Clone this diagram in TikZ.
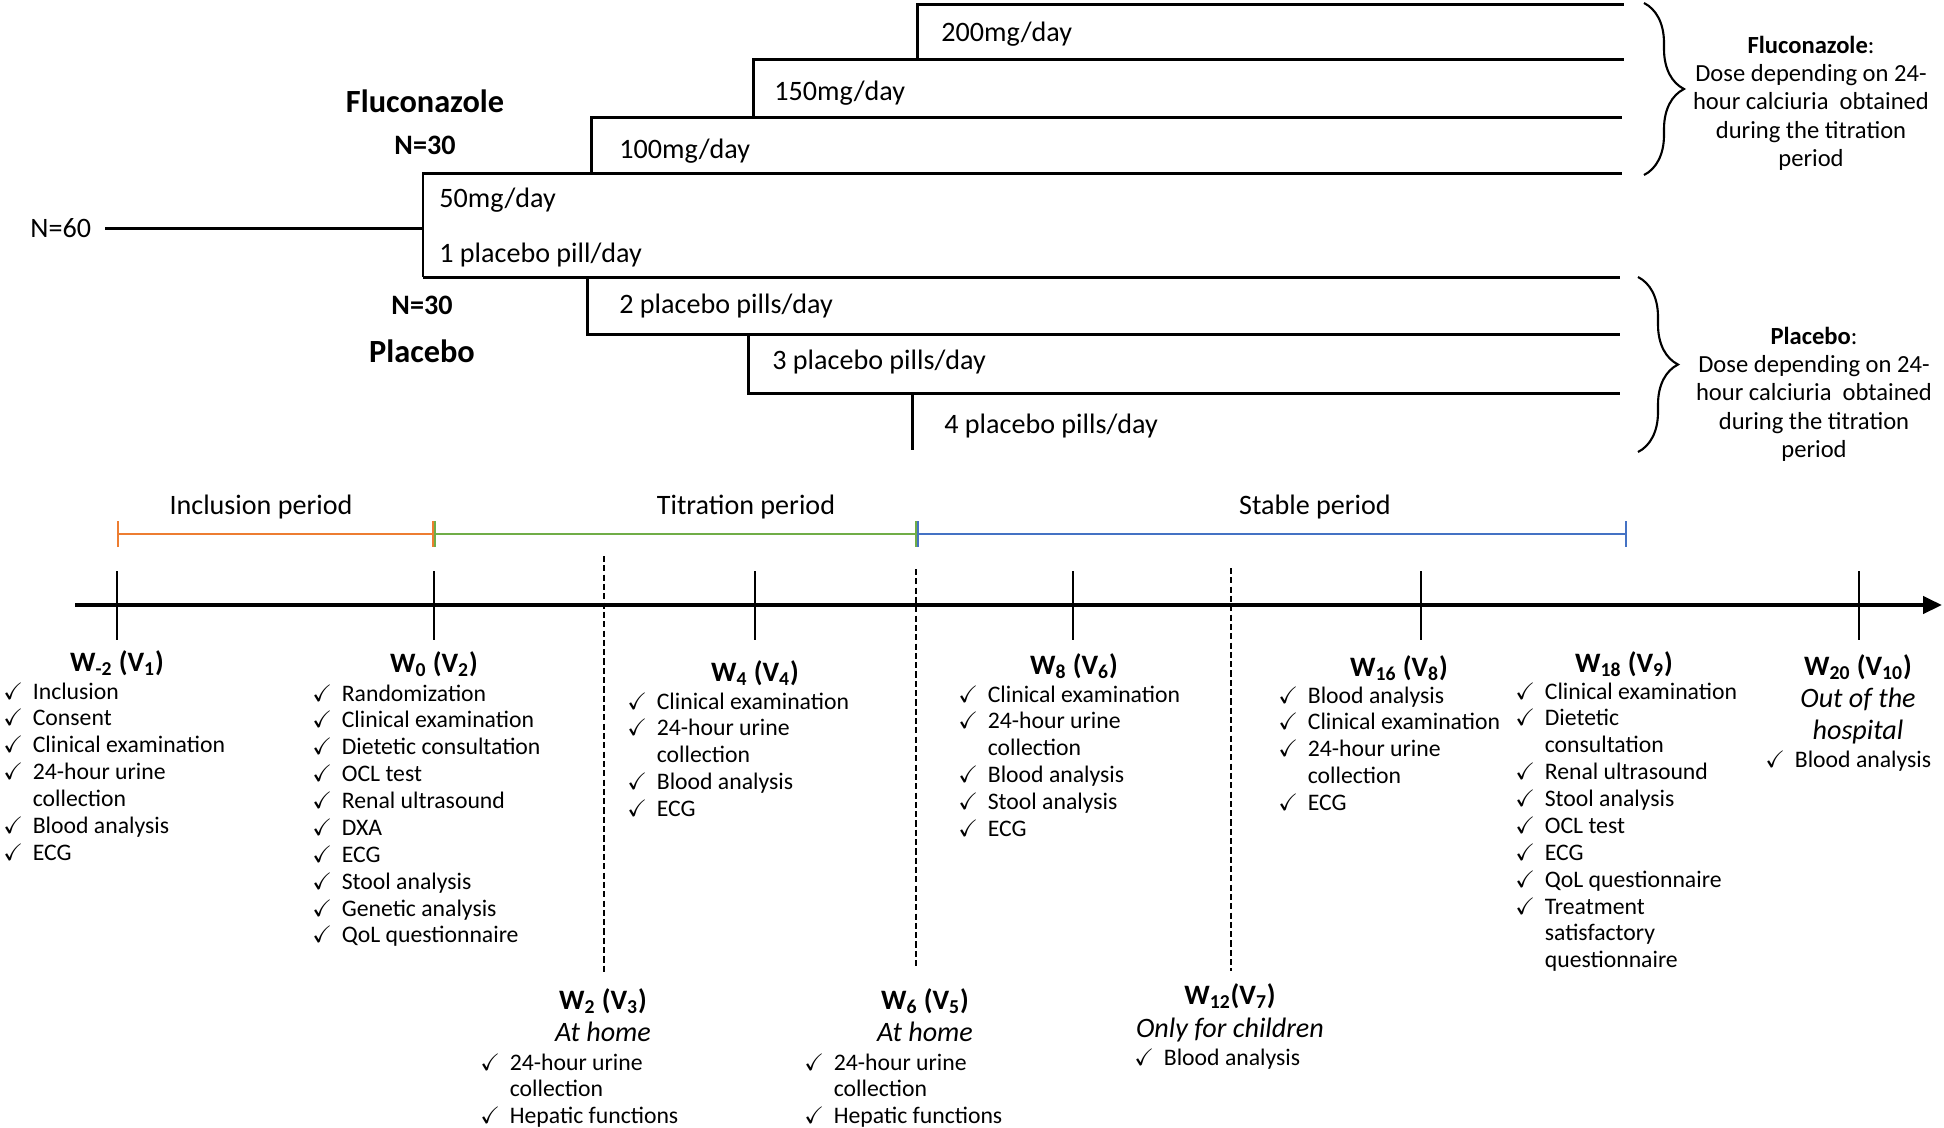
\documentclass[tikz,border=0pt]{standalone}
\usepackage{amssymb}
\usepackage{fontspec}
\setmainfont{Carlito}
\usetikzlibrary{positioning,arrows.meta,decorations.pathreplacing}

\definecolor{inclc}{HTML}{ED7D31}
\definecolor{titrc}{HTML}{70AD47}
\definecolor{stabc}{HTML}{4472C4}

\newcommand{\ck}{\makebox[0.59cm][l]{\checkmark}}
\newcommand{\nock}{\hspace*{0.59cm}}
\newcommand{\visits}[1]{\begin{tabular}[t]{@{}l@{}}#1\end{tabular}}
\newcommand{\notes}[1]{\begin{tabular}[t]{@{}c@{}}#1\end{tabular}}

\begin{document}
\begin{tikzpicture}[x=0.02cm, y=-0.02cm,
    dose/.style={line width=1.7pt},
    dosetxt/.style={anchor=base west, inner sep=0pt, font=\fontsize{16}{19}\selectfont},
    arm/.style={anchor=base, inner sep=0pt, font=\bfseries\fontsize{16}{19}\selectfont},
    brc/.style={decorate, decoration={brace, amplitude=0.8cm, aspect=0.5}, line width=1.2pt},
    note/.style={anchor=base, inner sep=0pt, font=\fontsize{14}{16.2}\selectfont},
    period/.style={anchor=base, inner sep=0pt, font=\fontsize{16}{19}\selectfont},
    phase/.style={line width=1.4pt, {Bar[width=0.52cm]}-{Bar[width=0.52cm]}},
    tick/.style={line width=1.4pt},
    home/.style={line width=1.3pt, dash pattern=on 3.5pt off 1.8pt},
    visit/.style={anchor=base, inner sep=0pt, font=\bfseries\fontsize{16}{19}\selectfont},
    where/.style={anchor=base, inner sep=0pt, font=\itshape\fontsize{16}{19}\selectfont},
    todo/.style={anchor=base west, inner sep=0pt, font=\fontsize{13.5}{15.3}\selectfont}]

  \useasboundingbox (0,0) rectangle (1944,1127);

  % randomisation
  \node [dosetxt] (n60) at (30,237) {N=60};
  \coordinate (start) at (105,228);
  \coordinate (split) at (423,228);
  \draw [dose] (start) -- (split);

  \node [arm,font=\bfseries\fontsize{18.4}{21}\selectfont] (fluco) at (425,112) {Fluconazole};
  \node [arm] (nfluco) at (425,154) {N=30};
  \node [arm] (nplac) at (422,314) {N=30};
  \node [arm,font=\bfseries\fontsize{18.4}{21}\selectfont] (plac) at (422,362) {Placebo};

  % fluconazole steps
  \draw [dose] (423,277) -- (423,173) -- (1622,173);
  \draw [dose] (591,173) -- (591,117) -- (1622,117);
  \draw [dose] (753,117) -- (753,59) -- (1624,59);
  \draw [dose] (917,59) -- (917,4) -- (1624,4);

  % placebo steps
  \draw [dose] (423,277) -- (1620,277);
  \draw [dose] (587,277) -- (587,334) -- (1620,334);
  \draw [dose] (748,334) -- (748,393) -- (1620,393);
  \draw [dose] (912,393) -- (912,450);

  \node [dosetxt] (d50) at (439,207) {50mg/day};
  \node [dosetxt] (d100) at (619,158) {100mg/day};
  \node [dosetxt] (d150) at (774,100) {150mg/day};
  \node [dosetxt] (d200) at (941,41) {200mg/day};
  \node [dosetxt] (p1) at (439,262) {1 placebo pill/day};
  \node [dosetxt] (p2) at (619,313) {2 placebo pills/day};
  \node [dosetxt] (p3) at (772,369) {3 placebo pills/day};
  \node [dosetxt] (p4) at (944,433) {4 placebo pills/day};

  \draw [brc] (1644,3) -- (1644,175);
  \draw [brc] (1638,277) -- (1638,452);

  \node [note] (nfl) at (1811,53) {\notes{\textbf{Fluconazole}:\\
      Dose depending on 24-\\ hour calciuria\ \ obtained\\
      during the titration\\ period}};
  \node [note] (npl) at (1814,344) {\notes{\textbf{Placebo}:\\
      Dose depending on 24-\\ hour calciuria\ \ obtained\\
      during the titration\\ period}};

  % periods
  \node [period] (incl) at (261,514) {Inclusion period};
  \node [period] (titr) at (746,514) {Titration period};
  \node [period] (stab) at (1315,514) {Stable period};
  \draw [phase,inclc] (117,534) -- (434,534);
  \draw [phase,titrc] (434,534) -- (917,534);
  \draw [phase,stabc] (917,534) -- (1627,534);

  % time axis
  \coordinate (ax0) at (75,605);
  \coordinate (ax1) at (1942,605);
  \draw [line width=2.4pt,-{Triangle[length=0.38cm,width=0.34cm]}] (ax0) -- (ax1);
  \foreach \x in {117,434,755,1073,1421,1859}
    \draw [tick] (\x,571) -- (\x,640);
  \foreach \x/\a/\b in {604/556/975,916/569/967,1231/568/971}
    \draw [home] (\x,\a) -- (\x,\b);

  % visits
  \node [visit] (v1) at (117,671) {W\textsubscript{-2} (V\textsubscript{1})};
  \node [todo] (l1) at (3,699) {\visits{\ck Inclusion\\ \ck Consent\\
      \ck Clinical examination\\ \ck 24-hour urine\\ \nock collection\\
      \ck Blood analysis\\ \ck ECG}};

  \node [visit] (v2) at (434,672) {W\textsubscript{0} (V\textsubscript{2})};
  \node [todo] (l2) at (312,701) {\visits{\ck Randomization\\
      \ck Clinical examination\\ \ck Dietetic consultation\\ \ck OCL test\\
      \ck Renal ultrasound\\ \ck DXA\\ \ck ECG\\ \ck Stool analysis\\
      \ck Genetic analysis\\ \ck QoL questionnaire}};

  \node [visit] (v3) at (603,1009) {W\textsubscript{2} (V\textsubscript{3})};
  \node [where] (h3) at (603,1041) {At home};
  \node [todo] (l3) at (480,1070) {\visits{\ck 24-hour urine\\ \nock collection\\
      \ck Hepatic functions}};

  \node [visit] (v4) at (755,681) {W\textsubscript{4} (V\textsubscript{4})};
  \node [todo] (l4) at (627,709) {\visits{\ck Clinical examination\\
      \ck 24-hour urine\\ \nock collection\\ \ck Blood analysis\\ \ck ECG}};

  \node [visit] (v5) at (925,1009) {W\textsubscript{6} (V\textsubscript{5})};
  \node [where] (h5) at (925,1041) {At home};
  \node [todo] (l5) at (804,1070) {\visits{\ck 24-hour urine\\ \nock collection\\
      \ck Hepatic functions}};

  \node [visit] (v6) at (1074,674) {W\textsubscript{8} (V\textsubscript{6})};
  \node [todo] (l6) at (958,702) {\visits{\ck Clinical examination\\
      \ck 24-hour urine\\ \nock collection\\ \ck Blood analysis\\
      \ck Stool analysis\\ \ck ECG}};

  \node [visit] (v7) at (1230,1004) {W\textsubscript{12}(V\textsubscript{7})};
  \node [where] (h7) at (1230,1037) {Only for children};
  \node [todo] (l7) at (1134,1065) {\visits{\ck Blood analysis}};

  \node [visit] (v8) at (1399,676) {W\textsubscript{16} (V\textsubscript{8})};
  \node [todo] (l8) at (1278,703) {\visits{\ck Blood analysis\\
      \ck Clinical examination\\ \ck 24-hour urine\\ \nock collection\\ \ck ECG}};

  \node [visit] (v9) at (1624,672) {W\textsubscript{18} (V\textsubscript{9})};
  \node [todo] (l9) at (1515,699) {\visits{\ck Clinical examination\\
      \ck Dietetic\\ \nock consultation\\ \ck Renal ultrasound\\
      \ck Stool analysis\\ \ck OCL test\\ \ck ECG\\ \ck QoL questionnaire\\
      \ck Treatment\\ \nock satisfactory\\ \nock questionnaire}};

  \node [visit] (v10) at (1858,675) {W\textsubscript{20} (V\textsubscript{10})};
  \node [where] (h10a) at (1858,707) {Out of the};
  \node [where] (h10b) at (1858,739) {hospital};
  \node [todo] (l10) at (1765,767) {\visits{\ck Blood analysis}};

\end{tikzpicture}
\end{document}
